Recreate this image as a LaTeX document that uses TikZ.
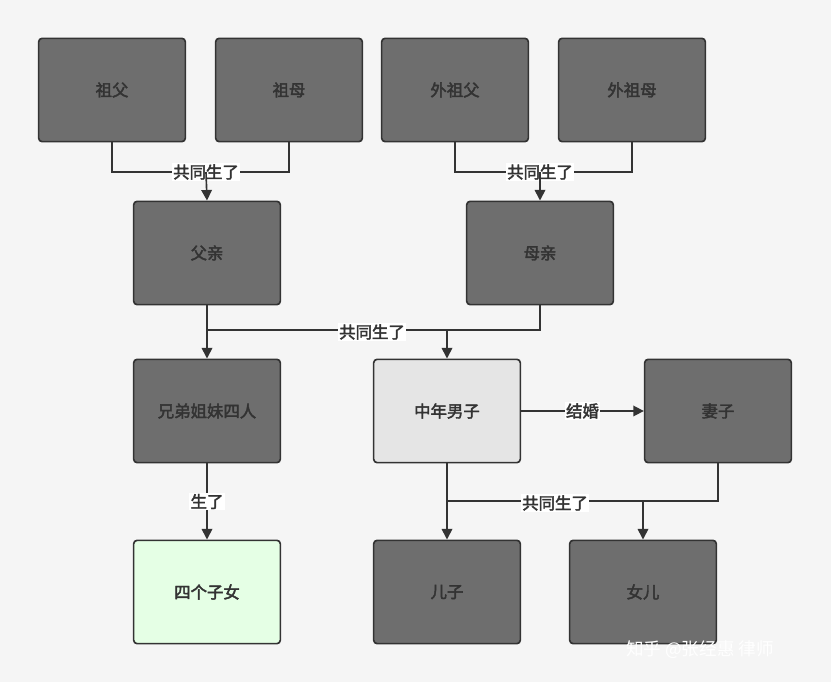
\documentclass[tikz,border=0pt]{standalone}
\usepackage{fontspec}
\setmainfont{Noto Sans CJK SC}[AutoFakeBold=2.5]
\usetikzlibrary{arrows.meta}
\definecolor{boxfill}{HTML}{6E6E6E}
\definecolor{ink}{HTML}{333333}
\begin{document}
\begin{tikzpicture}[x=0.03cm,y=-0.03cm]
\tikzset{
  person/.style={rectangle,rounded corners=3pt,draw=ink,line width=1.4pt,fill=boxfill,
    minimum width=4.4cm,minimum height=3.1cm,text=ink,font=\fontsize{14}{16}\selectfont\bfseries},
  link/.style={draw=ink,line width=1.4pt},
  arr/.style={link,-{Triangle[length=9pt,width=9pt]}},
  tag/.style={fill=white,inner sep=1pt,text=ink,font=\fontsize{14}{16}\selectfont\bfseries}
}
\fill[white!96!black] (0,0) rectangle (831,682);
% grandparents
\node[person] (zf) at (112,90) {祖父};
\node[person] (zm) at (289,90) {祖母};
\node[person] (wzf) at (455,90) {外祖父};
\node[person] (wzm) at (632,90) {外祖母};
% parents
\node[person] (fq) at (207,253) {父亲};
\node[person] (mq) at (540,253) {母亲};
% children
\node[person] (xd) at (207,411) {兄弟姐妹四人};
\node[person,fill=black!10] (me) at (447,411) {中年男子};
\node[person] (qz) at (718,411) {妻子};
\node[person,fill=green!10] (zn) at (207,592) {四个子女};
\node[person] (ez) at (447,592) {儿子};
\node[person] (ne) at (643,592) {女儿};
% joints
\coordinate (j1) at (206,172);
\coordinate (j2) at (540,172);
\coordinate (j3) at (447,330);
\coordinate (j4) at (643,501);
\draw[link] (zf.south) |- (j1) -| (zm.south);
\draw[link] (wzf.south) |- (j2) -| (wzm.south);
\draw[link] (mq.south) |- (fq.south |- j3);
\draw[link] (qz.south) |- (me.south |- j4);
\node[tag] (t1) at (j1) {共同生了};
\node[tag] (t2) at (j2) {共同生了};
\node[tag] (t3) at (372,332) {共同生了};
\node[tag] (t4) at (555,503) {共同生了};
\draw[arr] (j1) -- (fq.north);
\draw[arr] (j2) -- (mq.north);
\draw[arr] (fq.south) -- (xd.north);
\draw[arr] (j3) -- (me.north);
\draw[arr] (me.south) -- (ez.north);
\draw[arr] (j4) -- (ne.north);
\draw[arr] (xd.south) -- node[tag] {生了} (zn.north);
\draw[arr] (me.east) -- node[tag] {结婚} (qz.west);
\node[text=white,font=\fontsize{15}{17}\selectfont] (wm) at (700,650) {知乎 @张经惠 律师};
\end{tikzpicture}
\end{document}
